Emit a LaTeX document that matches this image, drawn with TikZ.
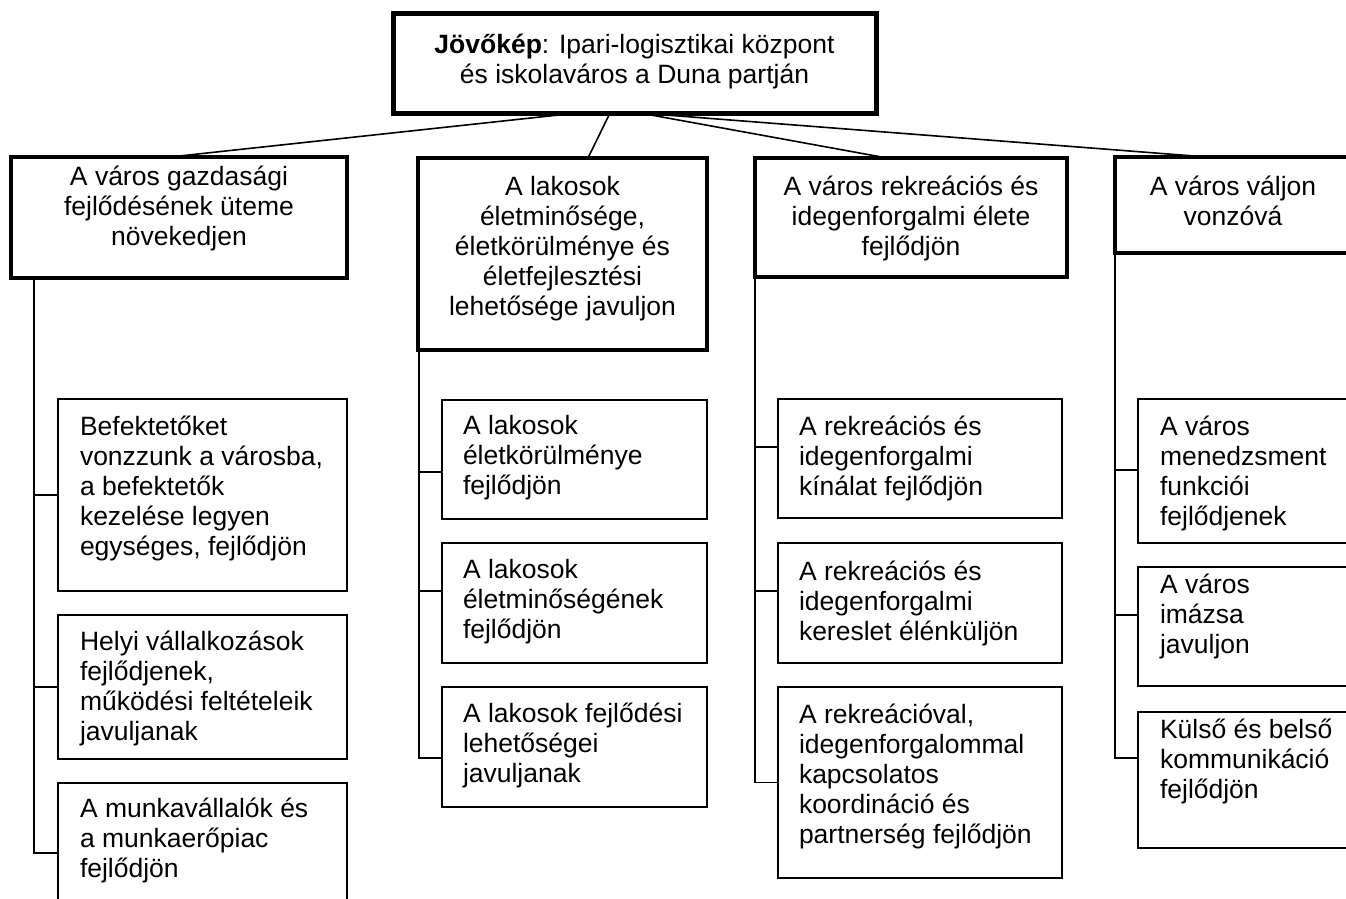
\documentclass[tikz,border=0pt]{standalone}
\usepackage{fontspec}
\setmainfont{Liberation Sans}
\usetikzlibrary{calc}
\tikzset{
  boxbase/.style={draw=black, rectangle, inner sep=0pt, outer sep=0pt, fill=white},
  topbox/.style={boxbase, line width=5pt},
  mainbox/.style={boxbase, line width=4pt},
  subbox/.style={boxbase, line width=1.6pt},
  conn/.style={draw=black, line width=1.6pt},
  txt/.style={inner sep=0pt, outer sep=0pt, font=\fontsize{26.5}{30}\selectfont},
  ctxt/.style={txt, anchor=north, align=center},
  ltxt/.style={txt, anchor=north west, align=left},
}
\begin{document}
\begin{tikzpicture}[x=1pt, y=-1pt]
\useasboundingbox (0,0) rectangle (1346,898);
\clip (0,0) rectangle (1346,898);

% top box
\node[topbox, minimum width=483pt, minimum height=100pt] (top) at (634.5,63) {};
\node[ctxt] (ttop) at (634.5,32) {\strut\textbf{Jövőkép}: Ipari-logisztikai központ\\és iskolaváros a Duna partján};

% main boxes
\node[mainbox, minimum width=336pt, minimum height=121pt] (b1) at (179,217.5) {};
\node[mainbox, minimum width=289pt, minimum height=192pt] (b2) at (562.5,254) {};
\node[mainbox, minimum width=312pt, minimum height=119pt] (b3) at (911,217.5) {};
\node[mainbox, minimum width=236pt, minimum height=96pt] (b4) at (1233,205) {};

\node[ctxt] (tb1) at (179,164) {\strut A város gazdasági\\fejlődésének üteme\\növekedjen};
\node[ctxt] (tb2) at (562.5,174) {\strut A lakosok\\életminősége,\\életkörülménye és\\életfejlesztési\\lehetősége javuljon};
\node[ctxt] (tb3) at (911,174) {\strut A város rekreációs és\\idegenforgalmi élete\\fejlődjön};
\node[ctxt] (tb4) at (1233,174) {\strut A város váljon\\vonzóvá};

% connectors from top
\draw[conn] ($(top.south)+(-57.5,0)$) -- ($(b1.north)+(-9,0)$);
\draw[conn] ($(top.south)+(-24.5,0)$) -- ($(b2.north)+(25.5,0)$);
\draw[conn] ($(top.south)+(5.5,0)$) -- ($(b3.north)+(-24,0)$);
\draw[conn] ($(top.south)+(5.5,0)$) -- ($(b4.north)+(-26,0)$);

% column 1
\node[subbox, minimum width=289pt, minimum height=192pt] (s11) at (202.5,495) {};
\node[subbox, minimum width=289pt, minimum height=144pt] (s12) at (202.5,687) {};
\node[subbox, minimum width=289pt, minimum height=140pt] (s13) at (202.5,853) {};
\node[ltxt] (ts11) at (80,414) {\strut Befektetőket\\vonzzunk a városba,\\a befektetők\\kezelése legyen\\egységes, fejlődjön};
\node[ltxt] (ts12) at (80,629) {\strut Helyi vállalkozások\\fejlődjenek,\\működési feltételeik\\javuljanak};
\node[ltxt] (ts13) at (80,796) {\strut A munkavállalók és\\a munkaerőpiac\\fejlődjön};
\coordinate (v1) at ($(b1.south west)+(23,0)$);
\draw[conn] (v1) |- (s13.west);
\draw[conn] (v1) |- (s12.west);
\draw[conn] (v1) |- (s11.west);

% column 2
\node[subbox, minimum width=265pt, minimum height=119pt] (s21) at (574.5,459.5) {};
\node[subbox, minimum width=265pt, minimum height=120pt] (s22) at (574.5,603) {};
\node[subbox, minimum width=265pt, minimum height=120pt] (s23) at (574.5,747) {};
\node[ltxt] (ts21) at (463,413) {\strut A lakosok\\életkörülménye\\fejlődjön};
\node[ltxt] (ts22) at (463,557) {\strut A lakosok\\életminőségének\\fejlődjön};
\node[ltxt] (ts23) at (463,701) {\strut A lakosok fejlődési\\lehetőségei\\javuljanak};
\coordinate (v2) at ($(b2.south west)+(1,0)$);
\draw[conn] (v2) |- ($(s23.west)+(0,11)$);
\draw[conn] (v2) |- ($(s22.west)+(0,-12)$);
\draw[conn] (v2) |- ($(s21.west)+(0,12.5)$);

% column 3
\node[subbox, minimum width=284pt, minimum height=119pt] (s31) at (920,458.5) {};
\node[subbox, minimum width=284pt, minimum height=120pt] (s32) at (920,603) {};
\node[subbox, minimum width=284pt, minimum height=191pt] (s33) at (920,782.5) {};
\node[ltxt] (ts31) at (799,414) {\strut A rekreációs és\\idegenforgalmi\\kínálat fejlődjön};
\node[ltxt] (ts32) at (799,559) {\strut A rekreációs és\\idegenforgalmi\\kereslet élénküljön};
\node[ltxt] (ts33) at (799,702) {\strut A rekreációval,\\idegenforgalommal\\kapcsolatos\\koordináció és\\partnerség fejlődjön};
\coordinate (v3) at (b3.south west);
\draw[conn] (v3) |- (s33.west);
\draw[conn] (v3) |- ($(s32.west)+(0,-12)$);
\draw[conn] (v3) |- ($(s31.west)+(0,-11.5)$);

% column 4
\node[subbox, minimum width=242pt, minimum height=144pt] (s41) at (1259,471) {};
\node[subbox, minimum width=242pt, minimum height=119pt] (s42) at (1259,626.5) {};
\node[subbox, minimum width=242pt, minimum height=136pt] (s43) at (1259,780) {};
\node[ltxt] (ts41) at (1160,414) {\strut A város\\menedzsment\\funkciói\\fejlődjenek};
\node[ltxt] (ts42) at (1160,572) {\strut A város\\imázsa\\javuljon};
\node[ltxt] (ts43) at (1160,717) {\strut Külső és belső\\kommunikáció\\fejlődjön};
\coordinate (v4) at (b4.south west);
\draw[conn] (v4) |- ($(s43.west)+(0,-22)$);
\draw[conn] (v4) |- ($(s42.west)+(0,-11.5)$);
\draw[conn] (v4) |- ($(s41.west)+(0,-1)$);
\end{tikzpicture}
\end{document}
